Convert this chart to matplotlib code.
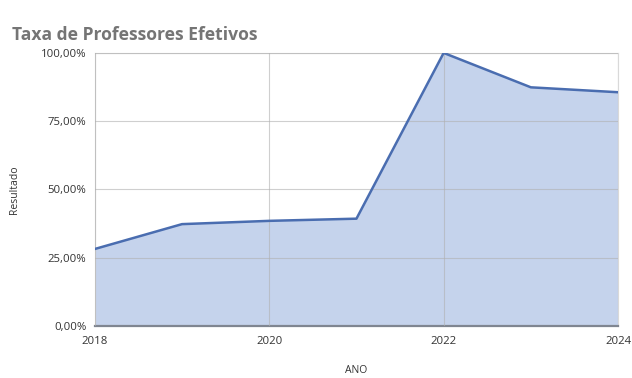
import matplotlib.pyplot as plt
from matplotlib.ticker import FuncFormatter

anos = [2018, 2019, 2020, 2021, 2022, 2023, 2024]
taxa = [28.2, 37.3, 38.5, 39.3, 100.0, 87.4, 85.6]

plt.rcParams['font.family'] = ['Open Sans', 'DejaVu Sans']

fig = plt.figure(figsize=(6.32, 3.78), dpi=100)
ax = fig.add_axes([0.150, 0.1376, 0.828, 0.7224])

ax.fill_between(anos, taxa, 0, color="#c5d3ec", zorder=1)
ax.plot(anos, taxa, color="#4a6db0", linewidth=1.8, zorder=3)

ax.set_xlim(2018, 2024)
ax.set_ylim(0, 100)
ax.set_xticks([2018, 2020, 2022, 2024])
ax.set_yticks([0, 25, 50, 75, 100])
ax.yaxis.set_major_formatter(FuncFormatter(lambda v, p: f"{v:.2f}%".replace(".", ",")))

ax.grid(True, color="#b0b0b0", linewidth=0.8, alpha=0.6, zorder=2)
ax.set_axisbelow(False)
for s in ["top", "right", "left"]:
    ax.spines[s].set_color("#d9d9d9")
    ax.spines[s].set_linewidth(0.8)
ax.spines["bottom"].set_color("#7f8590")
ax.spines["bottom"].set_linewidth(1.6)
ax.tick_params(length=0, labelsize=8.2, colors="#333333", pad=6)
ax.tick_params(axis="x", pad=7)

ax.set_ylabel("Resultado", fontsize=7.5, color="#333333", labelpad=15)
ax.set_xlabel("ANO", fontsize=7.5, color="#333333", labelpad=13)

fig.text(0.019, 0.894, "Taxa de Professores Efetivos", fontsize=12.6,
         fontweight="bold", color="#757575")

fig.savefig("out.png", dpi=100)
